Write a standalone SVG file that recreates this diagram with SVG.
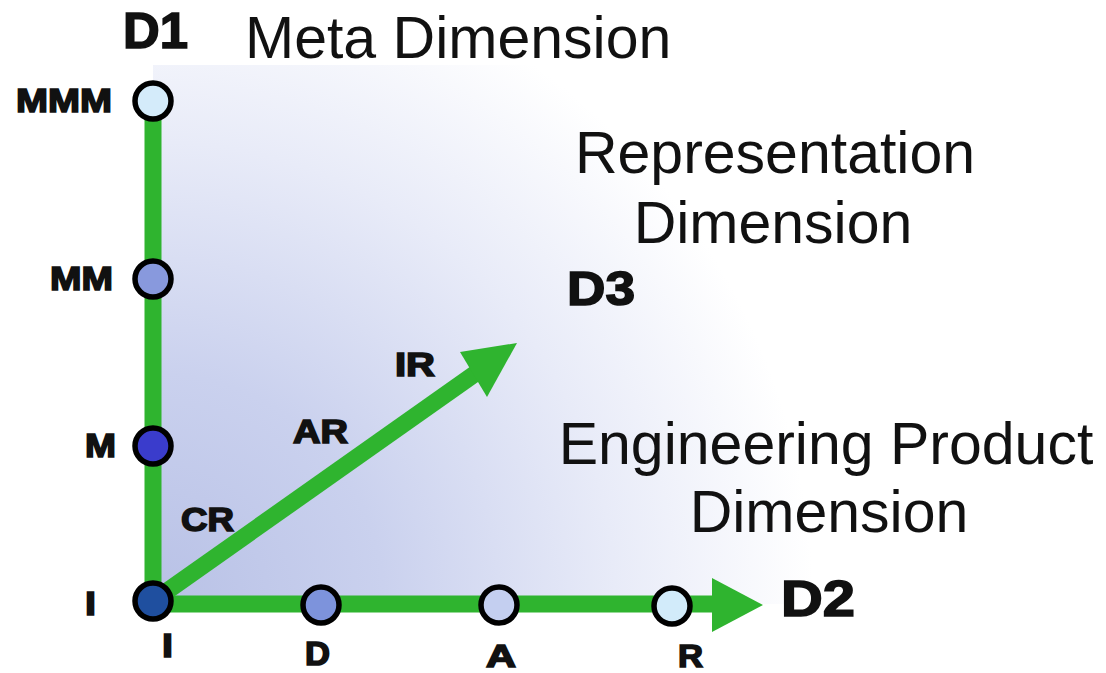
<svg xmlns="http://www.w3.org/2000/svg" width="1106" height="673" viewBox="0 0 1106 673">
<defs>
<radialGradient id="bg" gradientUnits="userSpaceOnUse" cx="153" cy="604" r="660">
<stop offset="0" stop-color="#b8c1e6"/>
<stop offset="0.35" stop-color="#cad1ee"/>
<stop offset="0.7" stop-color="#e8ebf8"/>
<stop offset="1" stop-color="#ffffff"/>
</radialGradient>
<style>
.ax{stroke:#2fb42f;stroke-width:17;fill:none}
.ah{fill:#2fb42f}
.nd{stroke:#000;stroke-width:5.5}
.lb{font-family:"Liberation Sans",Arial,sans-serif;font-weight:bold;fill:#111;stroke:#111;stroke-width:1.6}
.big{font-family:"Liberation Sans",Arial,sans-serif;font-size:59px;fill:#111}
</style>
</defs>
<rect width="1106" height="673" fill="#fff"/>
<rect x="153" y="65" width="953" height="539" fill="url(#bg)"/>
<g id="connectors">
<line class="ax" x1="153" y1="101" x2="153" y2="601"/>
<line class="ax" x1="145" y1="604" x2="716" y2="604"/>
<line class="ax" x1="153" y1="601" x2="476" y2="373"/>
<polygon class="ah" points="712,578 763,605 712,632"/>
<polygon class="ah" points="517,343 460,352 487,397"/>
</g>
<g id="node-MMM"><circle class="nd" cx="153" cy="101" r="18" fill="#d4ebfa"/></g>
<g id="node-MM"><circle class="nd" cx="153" cy="279" r="18" fill="#8899dd"/></g>
<g id="node-M"><circle class="nd" cx="153" cy="446" r="18" fill="#3a3ccc"/></g>
<g id="node-I"><circle class="nd" cx="153" cy="601" r="18" fill="#1f4f9f"/></g>
<g id="node-D"><circle class="nd" cx="321" cy="605" r="18" fill="#7d93dc"/></g>
<g id="node-A"><circle class="nd" cx="499" cy="605" r="18" fill="#c4cff0"/></g>
<g id="node-R"><circle class="nd" cx="672" cy="606" r="18" fill="#d2ebfa"/></g>
<g id="labels">
<text class="lb" x="16" y="112" font-size="33" textLength="96" lengthAdjust="spacingAndGlyphs">MMM</text>
<text class="lb" x="50" y="290" font-size="33" textLength="63" lengthAdjust="spacingAndGlyphs">MM</text>
<text class="lb" x="85" y="457" font-size="33" textLength="31" lengthAdjust="spacingAndGlyphs">M</text>
<text class="lb" x="85" y="615" font-size="33" textLength="11" lengthAdjust="spacingAndGlyphs">I</text>
<text class="lb" x="162" y="657" font-size="33" textLength="11" lengthAdjust="spacingAndGlyphs">I</text>
<text class="lb" x="305" y="665" font-size="33" textLength="25" lengthAdjust="spacingAndGlyphs">D</text>
<text class="lb" x="486" y="667" font-size="32" textLength="30" lengthAdjust="spacingAndGlyphs">A</text>
<text class="lb" x="678" y="667" font-size="32" textLength="25" lengthAdjust="spacingAndGlyphs">R</text>
<text class="lb" x="181" y="531" font-size="33" textLength="53" lengthAdjust="spacingAndGlyphs">CR</text>
<text class="lb" x="293" y="443" font-size="33" textLength="55" lengthAdjust="spacingAndGlyphs">AR</text>
<text class="lb" x="395" y="376" font-size="33" textLength="40" lengthAdjust="spacingAndGlyphs">IR</text>
<text class="lb" x="123" y="48" font-size="50" textLength="65" lengthAdjust="spacingAndGlyphs">D1</text>
<text class="lb" x="567" y="305" font-size="49" textLength="68" lengthAdjust="spacingAndGlyphs">D3</text>
<text class="lb" x="781" y="616" font-size="50" textLength="74" lengthAdjust="spacingAndGlyphs">D2</text>
<text class="big" x="245" y="58">Meta Dimension</text>
<text class="big" x="775" y="173" text-anchor="middle">Representation</text>
<text class="big" x="773" y="243" text-anchor="middle">Dimension</text>
<text class="big" x="826" y="464" text-anchor="middle">Engineering Product</text>
<text class="big" x="829" y="532" text-anchor="middle">Dimension</text>
</g>
</svg>
